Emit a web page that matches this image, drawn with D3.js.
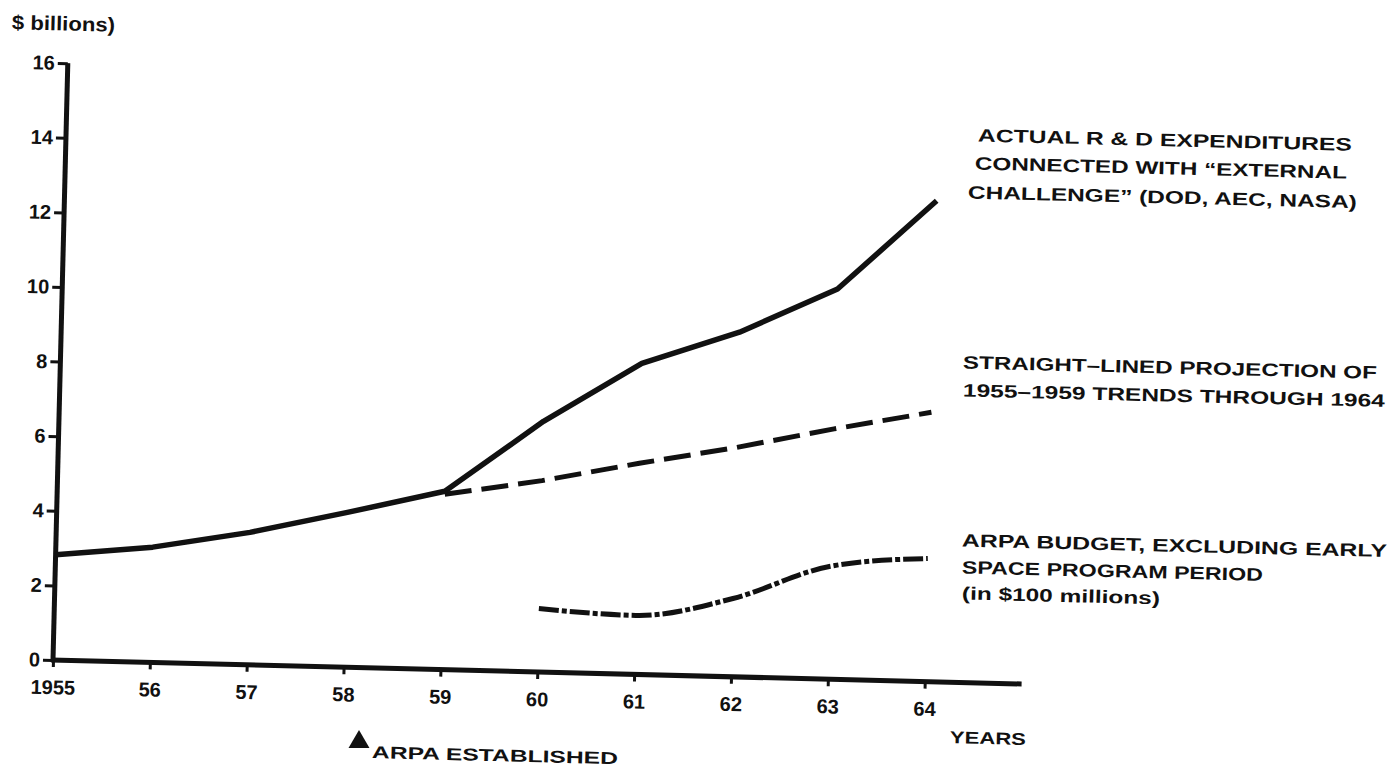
<!DOCTYPE html>
<html>
<head>
<meta charset="utf-8">
<script src="https://cdn.jsdelivr.net/npm/d3@7/dist/d3.min.js"></script>
<style>
  html, body { margin: 0; padding: 0; background: #fff; }
  svg { display: block; }
  text { font-family: "Liberation Sans", Arial, sans-serif; font-weight: bold; fill: #111; }
</style>
</head>
<body>
<script>
// ---- data ----
const years = [1955, 1956, 1957, 1958, 1959, 1960, 1961, 1962, 1963, 1964];
const yearLabels = ["1955", "56", "57", "58", "59", "60", "61", "62", "63", "64"];
const yTicks = [0, 2, 4, 6, 8, 10, 12, 14, 16];
const actualRD = [2.82, 3.09, 3.55, 4.15, 4.78, 6.72, 8.34, 9.24, 10.46, 12.89];
const projYears = [1959, 1960, 1961, 1962, 1963, 1964];
const projection = [4.7, 5.13, 5.66, 6.15, 6.71, 7.22];
const arpaYears = [1960, 1961, 1962, 1963, 1964];
const arpaBudget = [1.7, 1.58, 2.1, 3.03, 3.3];
const yTitle = "$ billions)";
const xTitle = "YEARS";
const eventLabel = "ARPA ESTABLISHED";
const labelActual = ["ACTUAL R & D EXPENDITURES", "CONNECTED WITH \u201CEXTERNAL", "CHALLENGE\u201D (DOD, AEC, NASA)"];
const labelProjection = ["STRAIGHT\u2013LINED PROJECTION OF", "1955\u20131959 TRENDS THROUGH 1964"];
const labelArpa = ["ARPA BUDGET, EXCLUDING EARLY", "SPACE PROGRAM PERIOD", "(in $100 millions)"];

// ---- drawing ----
const W = 1397, H = 771, TILT = 1.42;
const svg = d3.select("body").append("svg").attr("width", W).attr("height", H);
svg.append("rect").attr("width", W).attr("height", H).attr("fill", "#fff");

const g = svg.append("g").attr("transform", `translate(53,660) rotate(${TILT})`);
const x = d3.scaleLinear().domain([1955, 1964]).range([0, 872]);
const y = d3.scaleLinear().domain([0, 16]).range([0, -597]);
const ink = "#111";

// y axis
const gy = g.append("g").call(
  d3.axisLeft(y).tickValues(yTicks).tickSize(10).tickPadding(3).tickFormat(d3.format("d"))
);
gy.select(".domain").remove();
gy.selectAll(".tick line").attr("stroke", ink).attr("stroke-width", 3);
gy.selectAll(".tick text").attr("fill", ink).style("font-size", "20px")
  .style("font-family", "'Liberation Sans', Arial, sans-serif").style("font-weight", "bold");
g.append("line").attr("x1", x(1955)).attr("x2", x(1955))
  .attr("y1", y(0) + 2).attr("y2", y(16))
  .attr("stroke", ink).attr("stroke-width", 5);

// x axis
const gx = g.append("g").attr("transform", `translate(0,${y(0)})`).call(
  d3.axisBottom(x).tickValues(years).tickSize(7).tickPadding(13).tickFormat((d, i) => yearLabels[i])
);
gx.select(".domain").remove();
gx.selectAll(".tick line").attr("stroke", ink).attr("stroke-width", 3);
gx.selectAll(".tick text").attr("fill", ink).style("font-size", "20px")
  .style("font-family", "'Liberation Sans', Arial, sans-serif").style("font-weight", "bold");
g.append("line").attr("x1", x(1955) - 2).attr("x2", x(1965))
  .attr("y1", y(0)).attr("y2", y(0))
  .attr("stroke", ink).attr("stroke-width", 5);

// series
const lineGen = (xs) => d3.line().x((d, i) => x(xs[i])).y(d => y(d));
g.append("path").datum(projection)
  .attr("d", lineGen(projYears).curve(d3.curveLinear))
  .attr("fill", "none").attr("stroke", ink).attr("stroke-width", 5)
  .attr("stroke-dasharray", "27,10");
g.append("path").datum(actualRD)
  .attr("d", lineGen(years).curve(d3.curveLinear))
  .attr("fill", "none").attr("stroke", ink).attr("stroke-width", 5.5)
  .attr("stroke-linejoin", "round");
g.append("path").datum(arpaBudget)
  .attr("d", lineGen(arpaYears).curve(d3.curveMonotoneX))
  .attr("fill", "none").attr("stroke", ink).attr("stroke-width", 5)
  .attr("stroke-dasharray", "20,3,5,3");

// text helper: screen-anchored text, tilted like the scan
function label(str, sx, sy, size, width) {
  const t = svg.append("text")
    .attr("x", sx).attr("y", sy).attr("dy", "0.36em")
    .attr("transform", `rotate(${TILT},${sx},${sy})`)
    .style("font-size", size + "px")
    .text(str);
  if (width) t.attr("textLength", width).attr("lengthAdjust", "spacingAndGlyphs");
  return t;
}

label(yTitle, 12, 22, 20, 103);
label(xTitle, 950, 737, 17, 76);

// ARPA established marker
svg.append("path")
  .attr("d", d3.symbol().type(d3.symbolTriangle).size(190)())
  .attr("transform", `translate(359,742)`)
  .attr("fill", ink);
label(eventLabel, 372, 752, 17, 246);

// right-hand annotations
const act = [[978, 135, 374], [975, 163, 372], [968, 192, 389]];
labelActual.forEach((s, i) => label(s, act[i][0], act[i][1], 18, act[i][2]));
const prj = [[963, 362, 414], [963, 390, 422]];
labelProjection.forEach((s, i) => label(s, prj[i][0], prj[i][1], 18, prj[i][2]));
const arp = [[962, 540, 425], [962, 567, 301], [962, 593, 198]];
labelArpa.forEach((s, i) => label(s, arp[i][0], arp[i][1], 18, arp[i][2]));
</script>
</body>
</html>
